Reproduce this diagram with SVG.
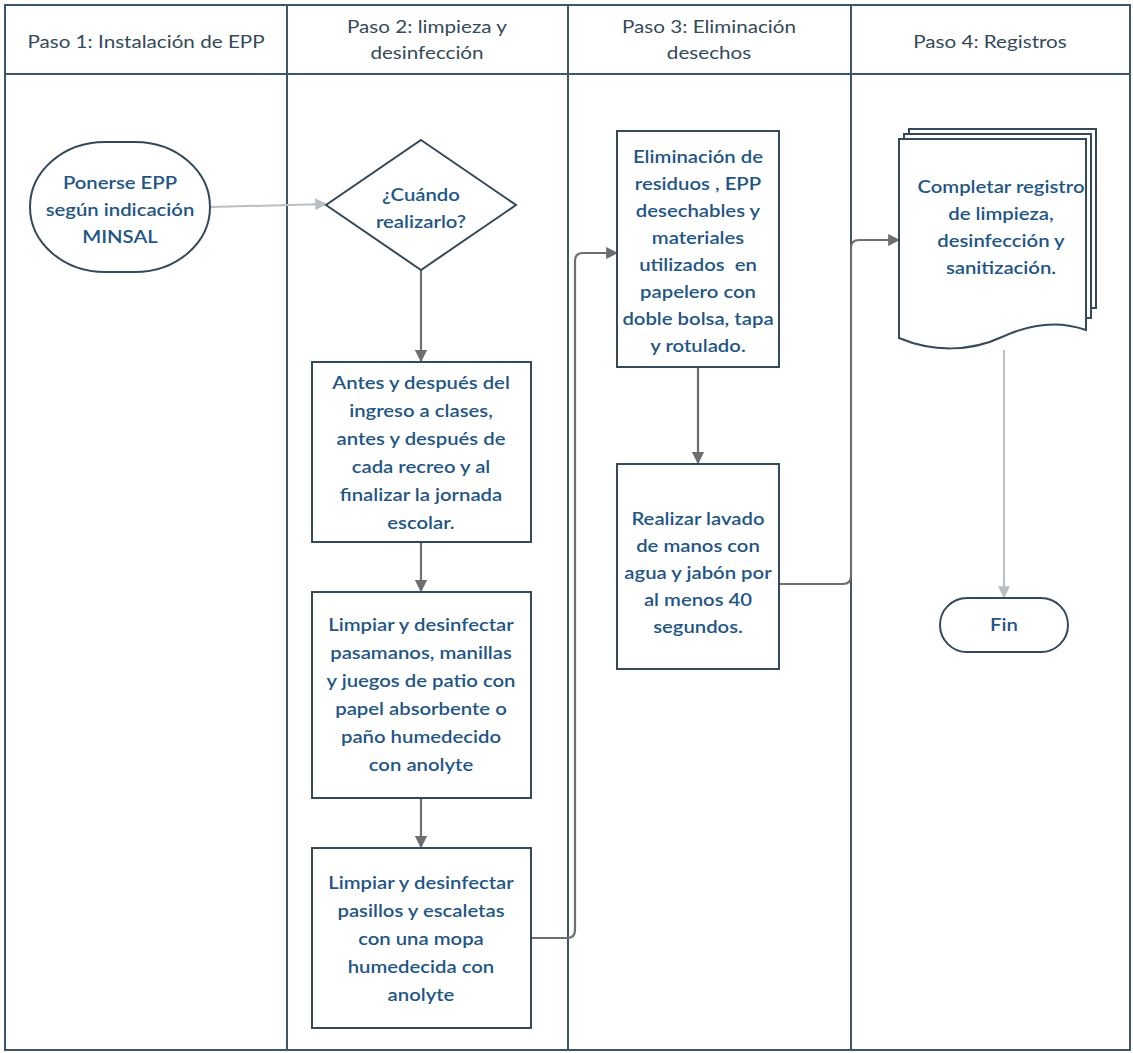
<svg xmlns="http://www.w3.org/2000/svg" width="1133" height="1053" viewBox="0 0 1133 1053">
  <style>
    .lane { fill: none; stroke: #3f5667; stroke-width: 2; }
    .hdr { font-family: Lato, "Liberation Sans", sans-serif; font-size: 17.5px; fill: #34495a; text-anchor: middle; transform-box: fill-box; transform-origin: center; transform: scaleX(1.18); }
    .shape { fill: #ffffff; stroke: #34495a; stroke-width: 2; }
    .txt { font-family: Lato, "Liberation Sans", sans-serif; font-size: 17.5px; font-weight: 600; fill: #1f5685; text-anchor: middle; transform-box: fill-box; transform-origin: center; transform: scaleX(1.16); }
    .dark { fill: none; stroke: #6e6e6e; stroke-width: 2.2; }
    .light { fill: none; stroke: #babfc4; stroke-width: 2; }
  </style>
  <defs>
    <marker id="ad" viewBox="0 0 10 10" refX="9" refY="5" markerWidth="5.5" markerHeight="5.5" markerUnits="strokeWidth" orient="auto">
      <path d="M0,0 L10,5 L0,10 Z" fill="#6e6e6e"/>
    </marker>
    <marker id="al" viewBox="0 0 10 10" refX="9" refY="5" markerWidth="6" markerHeight="6" markerUnits="strokeWidth" orient="auto">
      <path d="M0,0 L10,5 L0,10 Z" fill="#babfc4"/>
    </marker>
  </defs>
  <rect width="1133" height="1053" fill="#ffffff"/>

  <g id="lanes">
    <rect class="lane" x="5" y="5" width="1125" height="1045"/>
    <line class="lane" x1="5" y1="74" x2="1130" y2="74"/>
    <line class="lane" x1="287" y1="5" x2="287" y2="1050"/>
    <line class="lane" x1="568" y1="5" x2="568" y2="1050"/>
    <line class="lane" x1="851" y1="5" x2="851" y2="1050"/>
    <text class="hdr" x="146" y="48">Paso 1: Instalación de EPP</text>
    <text class="hdr" x="427" y="33">Paso 2: limpieza y</text>
    <text class="hdr" x="427" y="59">desinfección</text>
    <text class="hdr" x="709" y="33">Paso 3: Eliminación</text>
    <text class="hdr" x="709" y="59">desechos</text>
    <text class="hdr" x="990" y="48">Paso 4: Registros</text>
  </g>

  <g id="connectors">
    <line class="light" x1="211" y1="207" x2="326" y2="204" marker-end="url(#al)"/>
    <line class="dark" x1="421" y1="270" x2="421" y2="361" marker-end="url(#ad)"/>
    <line class="dark" x1="421" y1="542" x2="421" y2="591" marker-end="url(#ad)"/>
    <line class="dark" x1="421" y1="798" x2="421" y2="847" marker-end="url(#ad)"/>
    <path class="dark" d="M532,938 H567 Q575,938 575,930 V261 Q575,253 583,253 H617" marker-end="url(#ad)"/>
    <line class="dark" x1="698" y1="367" x2="698" y2="463" marker-end="url(#ad)"/>
    <path class="dark" d="M779,584 H843 Q851,584 851,576 V248 Q851,240 859,240 H899" marker-end="url(#ad)"/>
    <line class="light" x1="1004" y1="350" x2="1004" y2="597" marker-end="url(#al)"/>
  </g>

  <g id="n1">
    <rect class="shape" x="30" y="142" width="180" height="130" rx="75" ry="65"/>
    <text class="txt" x="120" y="189">Ponerse EPP</text>
    <text class="txt" x="120" y="216">según indicación</text>
    <text class="txt" x="120" y="243">MINSAL</text>
  </g>

  <g id="n2">
    <path class="shape" d="M421,140 L516,205 L421,270 L326,205 Z"/>
    <text class="txt" x="421" y="201">¿Cuándo</text>
    <text class="txt" x="421" y="228">realizarlo?</text>
  </g>

  <g id="n3">
    <rect class="shape" x="312" y="362" width="219" height="180"/>
    <text class="txt" x="421" y="389">Antes y después del</text>
    <text class="txt" x="421" y="417">ingreso a clases,</text>
    <text class="txt" x="421" y="445">antes y después de</text>
    <text class="txt" x="421" y="473">cada recreo y al</text>
    <text class="txt" x="421" y="501">finalizar la jornada</text>
    <text class="txt" x="421" y="529">escolar.</text>
  </g>

  <g id="n4">
    <rect class="shape" x="312" y="592" width="219" height="206"/>
    <text class="txt" x="421" y="631">Limpiar y desinfectar</text>
    <text class="txt" x="421" y="659">pasamanos, manillas</text>
    <text class="txt" x="421" y="687">y juegos de patio con</text>
    <text class="txt" x="421" y="715">papel absorbente o</text>
    <text class="txt" x="421" y="743">paño humedecido</text>
    <text class="txt" x="421" y="771">con anolyte</text>
  </g>

  <g id="n5">
    <rect class="shape" x="312" y="848" width="219" height="180"/>
    <text class="txt" x="421" y="889">Limpiar y desinfectar</text>
    <text class="txt" x="421" y="917">pasillos y escaletas</text>
    <text class="txt" x="421" y="945">con una mopa</text>
    <text class="txt" x="421" y="973">humedecida con</text>
    <text class="txt" x="421" y="1001">anolyte</text>
  </g>

  <g id="n6">
    <rect class="shape" x="617" y="131" width="162" height="236"/>
    <text class="txt" x="698" y="163">Eliminación de</text>
    <text class="txt" x="698" y="190">residuos , EPP</text>
    <text class="txt" x="698" y="217">desechables y</text>
    <text class="txt" x="698" y="244">materiales</text>
    <text class="txt" x="698" y="271" xml:space="preserve">utilizados  en</text>
    <text class="txt" x="698" y="298">papelero con</text>
    <text class="txt" x="698" y="325">doble bolsa, tapa</text>
    <text class="txt" x="698" y="352">y rotulado.</text>
  </g>

  <g id="n7">
    <rect class="shape" x="617" y="464" width="162" height="205"/>
    <text class="txt" x="698" y="525">Realizar lavado</text>
    <text class="txt" x="698" y="552">de manos con</text>
    <text class="txt" x="698" y="579">agua y jabón por</text>
    <text class="txt" x="698" y="606">al menos 40</text>
    <text class="txt" x="698" y="633">segundos.</text>
  </g>

  <g id="n8">
    <path class="shape" d="M909,129 H1096 V308 H909 Z"/>
    <path class="shape" d="M904,134 H1091 V318 H904 Z"/>
    <path class="shape" d="M899,139 H1086 V330 C1058,320 1030,324 1002,337 C970,352 932,352 899,338 Z"/>
    <text class="txt" x="1001" y="193">Completar registro</text>
    <text class="txt" x="1001" y="220">de limpieza,</text>
    <text class="txt" x="1001" y="247">desinfección y</text>
    <text class="txt" x="1001" y="274">sanitización.</text>
  </g>

  <g id="n9">
    <rect class="shape" x="940" y="598" width="128" height="54" rx="27" ry="27"/>
    <text class="txt" x="1004" y="631">Fin</text>
  </g>
</svg>
